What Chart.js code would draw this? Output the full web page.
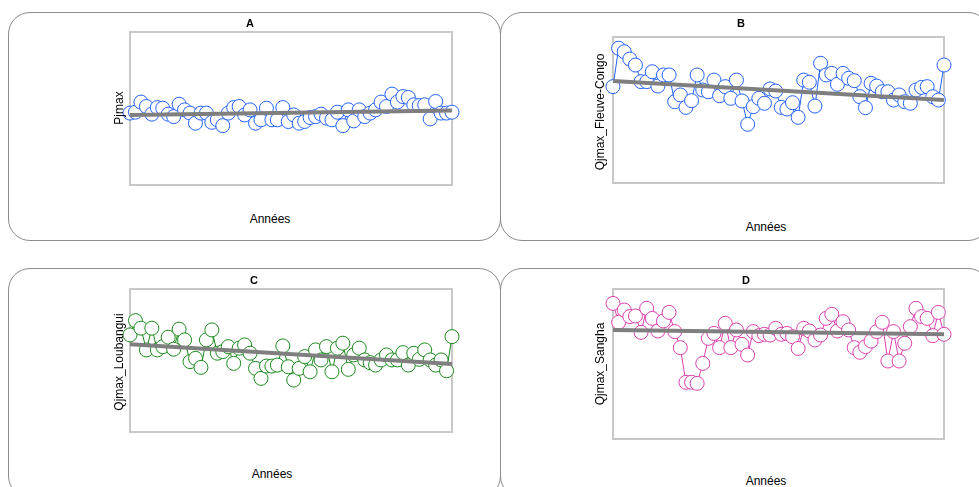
<!DOCTYPE html>
<html>
<head>
<meta charset="utf-8">
<script src="https://cdn.jsdelivr.net/npm/chart.js@4.4.1/dist/chart.umd.min.js"></script>
<style>
    body { margin: 0; width: 979px; height: 487px; overflow: hidden; background: #fff; position: relative; font-family: "Liberation Sans", Arial, sans-serif; }
    .panel { position: absolute; border: 1px solid #8c8c8c; border-radius: 22px; box-sizing: border-box; }
    .txt { position: absolute; transform: translate(-50%, -50%); white-space: nowrap; color: #000; font-size: 12px; }
    .ttl { font-weight: bold; font-size: 11px; }
    .ylab { transform: translate(-50%, -50%) rotate(-90deg); }
    canvas { position: absolute; }
</style>
</head>
<body>

<div class="panel" style="left:8px; top:12px; width:493px; height:229px;"></div>
<div class="panel" style="left:500px; top:12px; width:490px; height:229px;"></div>
<div class="panel" style="left:8px; top:268px; width:493px; height:230px;"></div>
<div class="panel" style="left:500px; top:268px; width:490px; height:230px;"></div>

<canvas id="chartA" style="left:120px; top:22px;" width="342" height="173"></canvas>
<canvas id="chartB" style="left:603px; top:27px;" width="351" height="166"></canvas>
<canvas id="chartC" style="left:120px; top:279px;" width="342" height="163"></canvas>
<canvas id="chartD" style="left:603px; top:279px;" width="351" height="170"></canvas>

<div class="txt ttl" style="left:250px; top:23px;">A</div>
<div class="txt ttl" style="left:741px; top:23px;">B</div>
<div class="txt ttl" style="left:254px; top:280px;">C</div>
<div class="txt ttl" style="left:746px; top:280px;">D</div>

<div class="txt" style="left:270px; top:219px;">Années</div>
<div class="txt" style="left:766px; top:227px;">Années</div>
<div class="txt" style="left:272px; top:474px;">Années</div>
<div class="txt" style="left:766px; top:481px;">Années</div>

<div class="txt ylab" style="left:119px; top:108px;">Pjmax</div>
<div class="txt ylab" style="left:600px; top:112px;">Qjmax_Fleuve-Congo</div>
<div class="txt ylab" style="left:119px; top:362px;">Qjmax_Loubangui</div>
<div class="txt ylab" style="left:600px; top:364px;">Qjmax_Sangha</div>

<script>
// Years (x axis, no tick labels shown)
const years = [];
for (let y = 1950; y <= 2009; y++) years.push(y);

// Series values (relative units)
const pjmax = [
    47.0, 47.6, 54.2, 51.3, 46.3, 50.6, 50.2, 46.3, 44.7, 52.8,
    49.1, 47.0, 40.4, 47.0, 47.0, 41.0, 42.6, 38.8, 47.0, 50.6,
    51.3, 45.8, 49.1, 40.4, 42.6, 50.2, 42.6, 42.6, 50.6, 41.5,
    45.8, 40.4, 41.5, 44.1, 44.7, 46.3, 43.7, 42.6, 47.6, 38.8,
    49.1, 41.9, 49.1, 44.7, 47.0, 49.1, 54.2, 51.3, 59.4, 54.2,
    57.8, 57.2, 52.4, 51.9, 52.4, 43.2, 54.6, 47.0, 47.0, 47.6
];
const qjmaxCongo = [
    66.0, 92.3, 89.9, 84.9, 80.8, 69.4, 69.4, 76.2, 66.4, 74.0,
    74.0, 55.7, 60.3, 51.8, 56.4, 74.0, 63.7, 62.5, 70.5, 59.8,
    66.0, 58.0, 70.5, 56.2, 40.2, 52.3, 58.0, 54.6, 64.4, 63.0,
    51.8, 50.7, 55.0, 45.0, 70.5, 69.0, 52.7, 82.0, 74.0, 75.1,
    67.6, 75.1, 71.7, 70.1, 59.1, 51.6, 68.3, 66.4, 62.5, 62.5,
    56.8, 60.3, 55.7, 54.6, 63.7, 65.5, 66.0, 59.1, 56.8, 80.8
];
const qjmaxLoubangui = [
    67.9, 77.9, 72.6, 57.4, 72.6, 57.4, 59.7, 66.3, 57.9, 71.9,
    64.4, 49.2, 51.5, 45.2, 64.4, 71.4, 55.1, 56.2, 59.7, 48.0,
    58.6, 60.9, 55.1, 44.5, 37.5, 46.1, 46.1, 46.8, 60.2, 45.6,
    36.3, 44.5, 52.7, 42.1, 57.4, 50.4, 59.7, 42.1, 58.6, 62.1,
    43.8, 53.9, 58.6, 50.4, 48.5, 46.8, 50.4, 53.9, 50.4, 50.4,
    55.5, 46.8, 55.1, 50.8, 57.4, 50.4, 46.8, 50.4, 42.8, 66.7
];
const qjmaxSangha = [
    90.4, 77.8, 86.0, 81.6, 82.0, 71.1, 87.1, 80.4, 72.0, 78.7,
    84.4, 71.6, 60.9, 37.8, 37.8, 37.1, 50.4, 67.1, 70.4, 60.9,
    77.1, 60.9, 72.7, 63.1, 56.0, 71.6, 68.9, 69.8, 69.3, 73.8,
    69.8, 70.4, 68.2, 60.4, 73.8, 72.0, 66.0, 69.3, 80.4, 83.1,
    72.0, 78.2, 72.7, 60.9, 57.8, 61.6, 65.3, 71.6, 77.8, 52.0,
    71.6, 52.0, 63.8, 74.9, 87.1, 81.6, 80.4, 68.9, 84.4, 69.8
];

// Linear trend, value at first and last year
const trendA = [45.8, 48.7];
const trendB = [69.9, 56.8];
const trendC = [61.4, 47.5];
const trendD = [72.7, 69.8];

// Draws the grey box around the plot area (like R's box())
const boxPlugin = {
    id: 'plotBox',
    beforeDatasetsDraw(chart) {
        const a = chart.chartArea;
        const ctx = chart.ctx;
        ctx.save();
        ctx.strokeStyle = '#c8c8c8';
        ctx.lineWidth = 2;
        ctx.strokeRect(a.left, a.top, a.right - a.left, a.bottom - a.top);
        ctx.restore();
    }
};

function makeChart(id, values, trend, color) {
    const pts = years.map((yr, i) => ({ x: yr, y: values[i] }));
    const trendPts = [
        { x: years[0], y: trend[0] },
        { x: years[years.length - 1], y: trend[1] }
    ];
    new Chart(document.getElementById(id), {
        type: 'line',
        data: {
            datasets: [
                {
                    data: trendPts,
                    borderColor: '#7f7f7f',
                    borderWidth: 4,
                    pointRadius: 0,
                    order: 0
                },
                {
                    data: pts,
                    borderColor: color,
                    borderWidth: 1,
                    tension: 0,
                    pointRadius: 7,
                    pointBorderWidth: 1,
                    pointBorderColor: color,
                    pointBackgroundColor: '#ffffff',
                    order: 1
                }
            ]
        },
        options: {
            responsive: false,
            animation: false,
            devicePixelRatio: 1,
            layout: { padding: 10 },
            clip: false,
            plugins: { legend: { display: false }, tooltip: { enabled: false } },
            scales: {
                x: { type: 'linear', min: years[0], max: years[years.length - 1], display: false },
                y: { min: 0, max: 100, display: false }
            }
        },
        plugins: [boxPlugin]
    });
}

makeChart('chartA', pjmax, trendA, '#2162ff');
makeChart('chartB', qjmaxCongo, trendB, '#2162ff');
makeChart('chartC', qjmaxLoubangui, trendC, '#1a8a1a');
makeChart('chartD', qjmaxSangha, trendD, '#dc3fae');
</script>
</body>
</html>
